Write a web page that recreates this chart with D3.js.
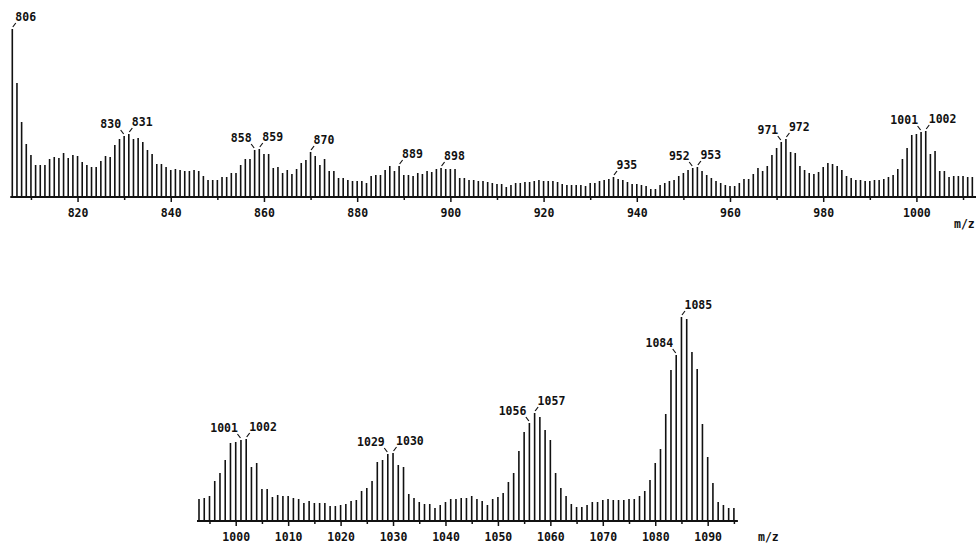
<!DOCTYPE html>
<html>
<head>
<meta charset="utf-8">
<script src="https://cdn.jsdelivr.net/npm/d3@7"></script>
<style>
  html, body { margin: 0; padding: 0; background: #fff; }
  svg { display: block; }
  text { font-family: "DejaVu Sans Mono", "Liberation Mono", monospace; font-size: 11.5px; fill: #111; font-weight: bold; }
</style>
</head>
<body>
<svg id="chart" width="976" height="543"></svg>
<script>
// Upper scan: one intensity per integer m/z, starting at 806
const topStart = 806;
const topIntensity = [
  168,114,75,53,42,32,32,32,38,40,
  39,44,39,42,41,35,32,30,30,36,
  41,40,52,58,61,63,58,59,55,47,
  43,33,33,30,27,28,27,26,26,27,
  26,21,17,17,17,20,20,24,24,32,
  38,38,47,48,43,43,29,30,24,27,
  23,28,34,37,45,41,32,38,26,26,
  19,19,17,16,16,16,14,21,22,22,
  27,31,26,31,22,22,21,24,23,26,
  25,28,29,28,28,28,19,19,17,17,
  16,16,15,14,13,13,10,12,14,14,
  15,15,16,17,16,16,16,15,13,12,
  12,12,12,11,14,14,16,17,18,20,
  18,17,15,13,13,12,11,8,8,12,
  14,16,17,21,24,27,29,30,26,22,
  19,16,14,12,11,11,14,18,18,23,
  29,26,31,42,49,55,58,45,44,31,
  27,24,23,25,30,34,33,31,27,21,
  19,17,17,16,16,17,17,18,20,22,
  28,38,49,62,63,65,66,43,46,26,
  26,20,21,21,21,20,20
];

// Lower scan: one intensity per integer m/z, starting at 993
const bottomStart = 993;
const bottomIntensity = [
  22,23,25,40,48,61,78,79,81,82,
  54,58,32,32,24,26,25,25,23,22,
  18,20,18,18,18,15,15,16,17,20,
  21,30,33,40,59,61,67,68,56,54,
  27,23,19,17,17,13,16,19,22,22,
  23,23,25,22,20,16,22,24,28,39,
  48,70,89,98,108,104,91,81,48,33,
  25,17,14,14,16,19,19,21,22,21,
  21,21,22,22,25,30,41,58,72,107,
  151,166,204,202,169,152,97,64,38,19,
  16,13,13
];

// Axis ticks
const topTicks = [820, 840, 860, 880, 900, 920, 940, 960, 980, 1000];
const topMinorTicks = [810, 830, 850, 870, 890, 910, 930, 950, 970, 990, 1010];
const bottomTicks = [1000, 1010, 1020, 1030, 1040, 1050, 1060, 1070, 1080, 1090];
const bottomMinorTicks = [995, 1005, 1015, 1025, 1035, 1045, 1055, 1065, 1075, 1085, 1095];

// Annotated peaks (side: where the label sits relative to its bar)
const topPeaks = [806, 830, 831, 858, 859, 870, 889, 898, 935, 952, 953, 971, 972, 1001, 1002];
const topPeakSides = ["r","l","r","l","r","r","r","r","r","l","r","l","r","l","r"];
const bottomPeaks = [1001, 1002, 1029, 1030, 1056, 1057, 1084, 1085];
const bottomPeakSides = ["l","r","l","r","l","r","l","r"];

const unitLabel = "m/z";

const svg = d3.select("#chart");
const W = 976;

const topMz = d3.range(topStart, topStart + topIntensity.length);
const bottomMz = d3.range(bottomStart, bottomStart + bottomIntensity.length);

const xTop = d3.scaleLinear().domain([806, 1013]).range([12.3, 977]);
const yTop = d3.scaleLinear().domain([0, d3.max(topIntensity)]).range([197, 29]);

const xBot = d3.scaleLinear().domain([993, 1095]).range([199, 733.9]);
const yBot = d3.scaleLinear().domain([0, d3.max(bottomIntensity)]).range([521, 317]);

function drawPanel(mz, vals, x, y, major, minor, peaks, sides, axisEnd, unitX, unitY) {
  const g = svg.append("g");
  const base = y(0);

  // spectrum lines
  g.selectAll("line.bar").data(mz).join("line")
    .attr("class", "bar")
    .attr("x1", d => x(d)).attr("x2", d => x(d))
    .attr("y1", base).attr("y2", (d, i) => y(vals[i]))
    .attr("stroke", "#111").attr("stroke-width", 1.6);

  // baseline
  g.append("line")
    .attr("x1", x(mz[0]) - 2).attr("x2", axisEnd)
    .attr("y1", base).attr("y2", base)
    .attr("stroke", "#111").attr("stroke-width", 2);

  // labelled ticks
  const axMajor = g.append("g").attr("transform", `translate(0,${base})`)
    .call(d3.axisBottom(x).tickValues(major).tickSize(5).tickPadding(7).tickFormat(d3.format("d")));
  axMajor.select(".domain").remove();
  axMajor.attr("font-family", null).attr("font-size", null);
  axMajor.selectAll("line").attr("stroke", "#111").attr("stroke-width", 1.5);

  // short unlabelled ticks
  const axMinor = g.append("g").attr("transform", `translate(0,${base})`)
    .call(d3.axisBottom(x).tickValues(minor.filter(v => x(v) <= axisEnd)).tickSize(3).tickFormat(""));
  axMinor.select(".domain").remove();
  axMinor.selectAll("line").attr("stroke", "#111").attr("stroke-width", 1.5);

  // peak annotations
  peaks.forEach((m, k) => {
    const i = mz.indexOf(m);
    const px = x(m);
    const top = y(vals[i]);
    const dir = sides[k] === "l" ? -1 : 1;
    g.append("line")
      .attr("x1", px + dir * 0.5).attr("y1", top - 2)
      .attr("x2", px + dir * 3.5).attr("y2", top - 6)
      .attr("stroke", "#111").attr("stroke-width", 1.2);
    g.append("text")
      .attr("x", px + dir * 3)
      .attr("y", top - 8)
      .attr("text-anchor", dir < 0 ? "end" : "start")
      .text(m);
  });

  g.append("text").attr("x", unitX).attr("y", unitY).text(unitLabel);
}

drawPanel(topMz, topIntensity, xTop, yTop, topTicks, topMinorTicks,
          topPeaks, topPeakSides, W, 954, 228);
drawPanel(bottomMz, bottomIntensity, xBot, yBot, bottomTicks, bottomMinorTicks,
          bottomPeaks, bottomPeakSides, xBot(1095) + 4, 758, 541);
</script>
</body>
</html>
